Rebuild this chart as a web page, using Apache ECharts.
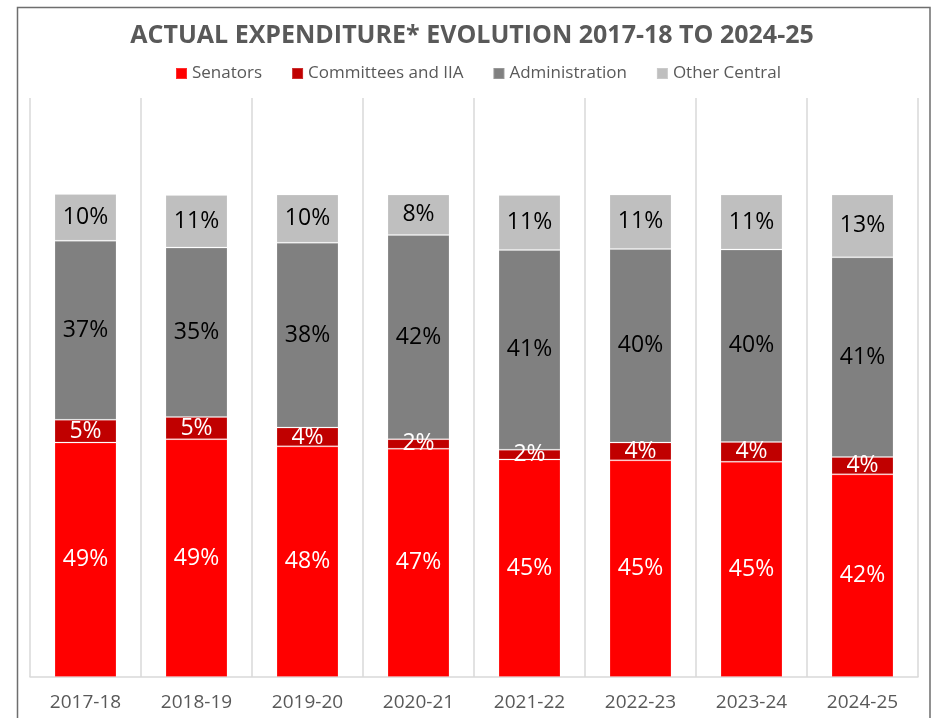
<!DOCTYPE html>
<html>
<head>
<meta charset="utf-8">
<script src="https://cdn.jsdelivr.net/npm/echarts@6/dist/echarts.min.js"></script>
<style>
html,body{margin:0;padding:0;background:#fff;}
#chart{width:933px;height:718px;}
</style>
</head>
<body>
<div id="chart"></div>
<script>
const categories = ['2017-18','2018-19','2019-20','2020-21','2021-22','2022-23','2023-24','2024-25'];
const seriesNames = ['Senators','Committees and IIA','Administration','Other Central'];
const senators    = [48.6, 49.3, 47.8, 47.3, 45.1, 44.9, 44.6, 42.0];
const committees  = [4.7, 4.6, 3.9, 2.0, 2.0, 3.7, 4.1, 3.6];
const administration = [37.1, 35.1, 38.3, 42.3, 41.4, 40.1, 39.9, 41.4];
const otherCentral   = [9.7, 10.9, 10.0, 8.4, 11.4, 11.3, 11.4, 13.0];
const titleText = 'ACTUAL EXPENDITURE* EVOLUTION 2017-18 TO 2024-25';

const colors = ['#FF0000','#C00000','#808080','#BFBFBF'];
const labelColors = ['#FFFFFF','#FFFFFF','#000000','#000000'];
const values = [senators, committees, administration, otherCentral];
const FONT = '"Open Sans", "Noto Sans", sans-serif';

const chart = echarts.init(document.getElementById('chart'), null, {renderer:'canvas'});
chart.setOption({
  animation:false,
  backgroundColor:'#FFFFFF',
  title:{
    text:titleText,
    left:467, textAlign:'center', top:18,
    textStyle:{fontFamily:FONT, fontSize:25, fontWeight:'bold', color:'#595959'}
  },
  legend:{
    data:seriesNames,
    top:60, left:170,
    icon:'rect', itemWidth:11, itemHeight:11, itemGap:29,
    textStyle:{fontFamily:FONT, fontSize:17, color:'#595959'}
  },
  graphic:[{
    type:'rect', silent:true,
    shape:{x:17.5, y:7.5, width:912.5, height:730},
    style:{fill:'none', stroke:'#6E6E6E', lineWidth:1.5}
  }],
  grid:{left:30, right:15, top:98, bottom:41},
  xAxis:{
    type:'category', data:categories,
    axisLine:{lineStyle:{color:'#D9D9D9', width:1.5}},
    axisTick:{show:false},
    splitLine:{show:true, lineStyle:{color:'#D9D9D9', width:1.5}},
    axisLabel:{fontFamily:FONT, fontSize:19, color:'#595959', margin:16}
  },
  yAxis:{type:'value', min:0, max:120, show:false, splitLine:{show:false}},
  series: seriesNames.map((name,i)=>({
    name:name, type:'bar', stack:'total', barWidth:62,
    data:values[i],
    itemStyle:{color:colors[i], borderColor:'rgba(255,255,255,0.18)', borderWidth:1},
    label:{
      show:true, position:'inside',
      fontFamily:FONT, fontSize:23, color:labelColors[i],
      formatter:p=>Math.round(p.value)+'%'
    }
  }))
});
</script>
</body>
</html>
